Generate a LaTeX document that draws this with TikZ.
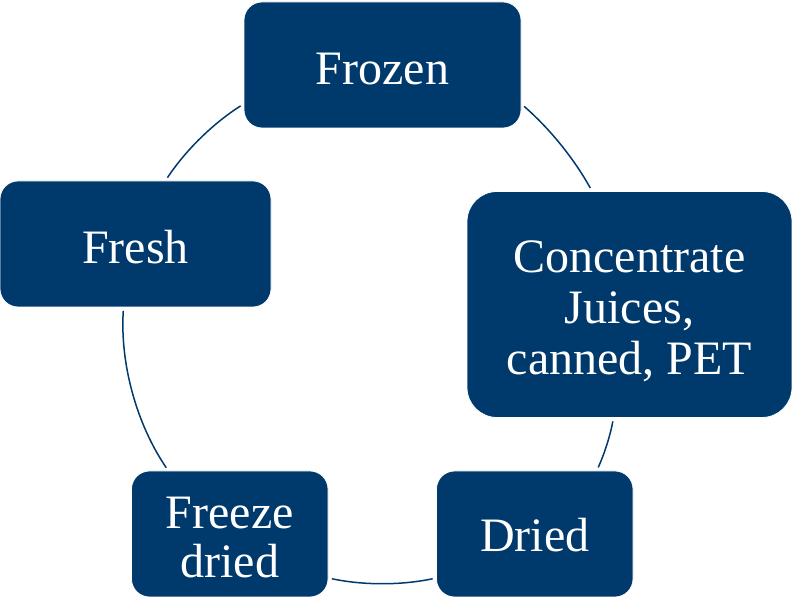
\documentclass[tikz,border=0pt]{standalone}
\usepackage{fontspec}
\setmainfont{Liberation Serif}
\definecolor{navy}{RGB}{0,57,107}
\newcommand\drop[1]{\rule{0pt}{#1}}
\tikzset{
  box/.style={draw=white,line width=.8pt,fill=navy,text=white,rounded corners=18pt,
    inner sep=0pt,align=center,font=\fontsize{48}{51}\selectfont},
  ring/.style={draw=navy,line width=1.5pt,shorten <=3.5pt,shorten >=3.5pt,looseness=.85}
}

\begin{document}
\begin{tikzpicture}[x=1pt,y=1pt]
\useasboundingbox (0,0) rectangle (792,599);

\node[box,minimum width=277pt,minimum height=126pt] (frozen) at (382.5,534) {\drop{40pt}Frozen};
\node[box,minimum width=325pt,minimum height=226pt,rounded corners=30pt] (conc) at (629.5,294.5)
  {\drop{45pt}Concentrate\\Juices,\\canned, PET};
\node[box,minimum width=196.5pt,minimum height=126pt] (dried) at (534.75,65) {\drop{36pt}Dried};
\node[box,minimum width=196.5pt,minimum height=126pt,font=\fontsize{48}{49}\selectfont]
  (fdried) at (229.75,65) {\drop{39pt}Freeze\\dried};
\node[box,minimum width=271pt,minimum height=126pt] (fresh) at (135.5,355) {\drop{40pt}Fresh};

\draw[ring] ([yshift=-39pt]frozen.east) to[bend left=10] ([xshift=-37.5pt]conc.north);
\draw[ring] ([xshift=-16pt]conc.south) to[bend left=7] ([xshift=62pt]dried.north);
\draw[ring] ([yshift=-44pt]dried.west) to[bend left=12] ([yshift=-44pt]fdried.east);
\draw[ring] ([xshift=-61.5pt]fdried.north) to[bend left=19] ([xshift=-12pt]fresh.south);
\draw[ring] ([xshift=30pt]fresh.north) to[bend left=12] ([yshift=-39pt]frozen.west);
\end{tikzpicture}
\end{document}
